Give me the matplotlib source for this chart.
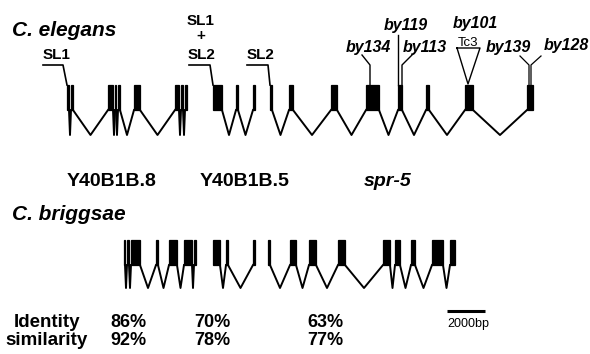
import numpy as np
import matplotlib.pyplot as plt

plt.rcParams['font.family'] = ['Liberation Sans', 'DejaVu Sans']

# exon (start, end) positions along the locus, 38 units = 2000 bp
elegans_Y40B1B8 = [(67, 69), (71, 73), (108, 113), (115, 116), (118, 120),
                   (134, 140), (175, 179), (181, 183), (185, 187)]
elegans_Y40B1B5 = [(213, 222), (236, 238), (253, 255)]
elegans_spr5 = [(270, 272), (289, 293), (331, 337), (366, 379), (398, 402),
                (426, 429), (465, 473), (527, 533)]

briggsae_Y40B1B8 = [(124, 125), (127, 129), (131, 140), (156, 158), (169, 177),
                    (184, 192), (194, 196)]
briggsae_Y40B1B5 = [(213, 220), (226, 228), (253, 255)]
briggsae_spr5 = [(268, 270), (290, 296), (309, 316), (338, 345), (383, 390),
                 (395, 400), (411, 415), (432, 443), (450, 455)]

genes = ['Y40B1B.8', 'Y40B1B.5', 'spr-5']
identity = ['86%', '70%', '63%']
similarity = ['92%', '78%', '77%']
scale_bp = 2000
scale_len = 38

fig = plt.figure(figsize=(5.9, 3.54), dpi=100)
ax = fig.add_axes([0, 0, 1, 1])
ax.set_xlim(0, 590)
ax.set_ylim(354, 0)
ax.axis('off')


def draw_gene(exons, top, bot, low):
    for s, e in exons:
        ax.bar(s, bot - top, width=e - s, bottom=top, align='edge',
               color='black', edgecolor='black', linewidth=0.9)
    for (s1, e1), (s2, e2) in zip(exons[:-1], exons[1:]):
        ax.plot([e1, (e1 + s2) / 2, s2], [bot, low, bot], color='black', lw=1.4)


for ex in [elegans_Y40B1B8, elegans_Y40B1B5, elegans_spr5]:
    draw_gene(ex, 85, 110, 135)
for ex in [briggsae_Y40B1B8, briggsae_Y40B1B5, briggsae_spr5]:
    draw_gene(ex, 240, 265, 288)

# trans-spliced leaders
for x0, x1, ex in [(43, 63, elegans_Y40B1B8), (189, 210, elegans_Y40B1B5),
                   (247, 268, elegans_spr5)]:
    ax.plot([x0, x1, ex[0][0]], [65, 65, 85], color='black', lw=1.2)

bold = dict(fontweight='bold', ha='center', va='baseline')
ax.text(57, 59, 'SL1', fontsize=11, **bold)
ax.text(201, 25, 'SL1', fontsize=11, **bold)
ax.text(201, 40, '+', fontsize=11, **bold)
ax.text(202, 59, 'SL2', fontsize=11, **bold)
ax.text(261, 59, 'SL2', fontsize=11, **bold)

# alleles
mut = dict(fontweight='bold', style='italic', ha='center', va='baseline', fontsize=11.5)
ax.text(368, 52, 'by134', **mut)
ax.plot([362, 370, 370], [55, 65, 85], color='black', lw=1.0)
ax.text(406, 30, 'by119', **mut)
ax.plot([398, 398], [35, 85], color='black', lw=1.0)
ax.text(425, 52, 'by113', **mut)
ax.plot([412, 402, 402], [55, 65, 85], color='black', lw=1.0)
ax.text(475, 28, 'by101', **mut)
ax.text(468, 46, 'Tc3', fontsize=9.5, ha='center', va='baseline')
ax.plot([457, 480, 468, 457], [48, 48, 84, 48], color='black', lw=1.0)
ax.text(508, 52, 'by139', **mut)
ax.text(566, 50, 'by128', **mut)
ax.plot([520, 529, 529], [56, 65, 85], color='black', lw=0.9)
ax.plot([541, 531, 531], [56, 65, 85], color='black', lw=0.9)

# species and gene names
sp = dict(fontweight='bold', style='italic', ha='left', va='baseline', fontsize=15)
ax.text(12, 36, 'C. elegans', **sp)
ax.text(12, 220, 'C. briggsae', **sp)
for x, g in zip([112, 245, 388], genes):
    ax.text(x, 186, g, fontsize=14, fontweight='bold', ha='center', va='baseline',
            style='italic' if g == 'spr-5' else 'normal')

# conservation
ax.text(47, 327, 'Identity', fontsize=13.5, **bold)
ax.text(47, 345, 'similarity', fontsize=13.5, **bold)
for x, i, s in zip([128, 212, 325], identity, similarity):
    ax.text(x, 327, i, fontsize=13, **bold)
    ax.text(x, 345, s, fontsize=13, **bold)

# scale bar
ax.plot([447, 447 + scale_len], [311, 311], color='black', lw=2.2, solid_capstyle='butt')
ax.text(447 + scale_len / 2 + 2, 327, f'{scale_bp}bp', fontsize=9, ha='center', va='baseline')

fig.savefig('out.png', dpi=100)
